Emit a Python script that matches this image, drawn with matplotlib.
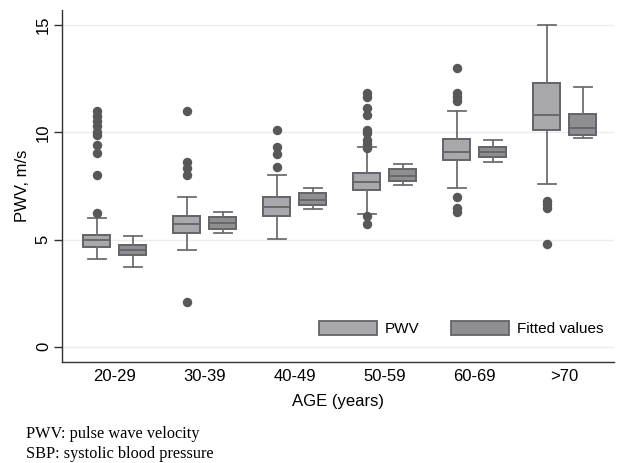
import matplotlib
matplotlib.use("Agg")
import matplotlib.pyplot as plt
from matplotlib.patches import Patch

groups = ['20-29', '30-39', '40-49', '50-59', '60-69', '>70']

pwv_whislo = [4.11, 4.50, 5.01, 6.21, 7.39, 7.61]
pwv_q1 = [4.64, 5.29, 6.10, 7.31, 8.70, 10.09]
pwv_med = [4.97, 5.71, 6.50, 7.69, 9.10, 10.80]
pwv_q3 = [5.20, 6.10, 6.99, 8.09, 9.71, 12.31]
pwv_whishi = [6.00, 6.99, 8.02, 9.32, 10.99, 15.00]
pwv_fliers = [
    [6.23, 8.02, 9.02, 9.43, 9.90, 10.02, 10.30, 10.53, 10.77, 11.01],
    [2.10, 7.99, 8.33, 8.61, 11.01],
    [8.39, 9.00, 9.33, 10.11],
    [5.71, 6.10, 9.26, 9.46, 9.65, 9.96, 10.11, 10.81, 11.12, 11.65, 11.83],
    [6.29, 6.46, 6.99, 11.48, 11.65, 11.83, 12.99],
    [4.81, 6.46, 6.64, 6.79],
]

fit_whislo = [3.73, 5.31, 6.41, 7.53, 8.63, 9.75]
fit_q1 = [4.27, 5.51, 6.61, 7.73, 8.84, 9.88]
fit_med = [4.51, 5.76, 6.85, 7.98, 9.07, 10.22]
fit_q3 = [4.75, 6.07, 7.19, 8.29, 9.32, 10.87]
fit_whishi = [5.18, 6.30, 7.42, 8.53, 9.65, 12.10]

yticks = [0, 5, 10, 15]
series_labels = ['PWV', 'Fitted values']
notes = ['PWV: pulse wave velocity', 'SBP: systolic blood pressure']

plt.rcParams['font.family'] = ['Liberation Sans', 'DejaVu Sans']

fig = plt.figure(figsize=(6.17, 4.63), dpi=100)
W, H = 617, 463
ax = fig.add_axes([62 / W, (H - 362) / H, (614 - 62) / W, (362 - 10) / H])

edge = '#646468'
whisk = '#6e6e72'
pwv_fill = '#a9a9ad'
fit_fill = '#8f8f93'
flier_c = '#58585b'


def stats(lo, q1, med, q3, hi, fl):
    return [dict(whislo=a, q1=b, med=c, q3=d, whishi=e, fliers=f)
            for a, b, c, d, e, f in zip(lo, q1, med, q3, hi, fl)]


pos = list(range(len(groups)))
common = dict(widths=0.3, patch_artist=True, showfliers=True,
              whiskerprops=dict(color=whisk, lw=1.3),
              capprops=dict(color=whisk, lw=1.3),
              medianprops=dict(color=edge, lw=1.3),
              flierprops=dict(marker='o', markerfacecolor=flier_c,
                              markeredgecolor=flier_c, markersize=5.8))

b1 = ax.bxp(stats(pwv_whislo, pwv_q1, pwv_med, pwv_q3, pwv_whishi, pwv_fliers),
            positions=[p - 0.2 for p in pos],
            boxprops=dict(facecolor=pwv_fill, edgecolor=edge, lw=1.4),
            **common)
b2 = ax.bxp(stats(fit_whislo, fit_q1, fit_med, fit_q3, fit_whishi, [[] for _ in groups]),
            positions=[p + 0.2 for p in pos],
            boxprops=dict(facecolor=fit_fill, edgecolor=edge, lw=1.4),
            **common)
for c in b1['caps'] + b2['caps']:
    x = c.get_xdata()
    m = (x[0] + x[1]) / 2
    c.set_xdata([m - 0.1, m + 0.1])

ax.set_xlim(-0.586, 5.548)
ax.set_ylim(-0.714, 15.71)
ax.set_xticks(pos)
ax.set_xticklabels(groups, fontsize=12)
ax.tick_params(axis='x', length=0, pad=5)
ax.set_yticks(yticks)
ax.set_yticklabels([str(v) for v in yticks], fontsize=12, rotation=90, va='center')
ax.tick_params(axis='y', length=6, width=1, color='#333333', pad=2)
ax.yaxis.grid(True, color='#ececec', lw=1)
ax.set_axisbelow(True)
for s in ['top', 'right']:
    ax.spines[s].set_visible(False)
for s in ['left', 'bottom']:
    ax.spines[s].set_color('#333333')
    ax.spines[s].set_linewidth(1)

ax.set_xlabel('AGE (years)', fontsize=12, labelpad=7)
ax.set_ylabel('PWV, m/s', fontsize=12, labelpad=4)

handles = [Patch(facecolor=pwv_fill, edgecolor=edge, lw=1.3),
           Patch(facecolor=fit_fill, edgecolor=edge, lw=1.3)]
fig.legend(handles, series_labels, loc='center left',
           bbox_to_anchor=(319 / W, (H - 328.7) / H), bbox_transform=fig.transFigure,
           ncol=2, frameon=False, fontsize=11, handlelength=3.8, handleheight=1.05,
           handletextpad=0.5, columnspacing=2.1, borderpad=0, borderaxespad=0)

for i, t in enumerate(notes):
    fig.text(26 / W, (H - (434 + 20 * i)) / H, t, fontsize=11.7,
             family=['Liberation Serif', 'DejaVu Serif'], va='center', ha='left')

fig.savefig('out.png', dpi=100)
